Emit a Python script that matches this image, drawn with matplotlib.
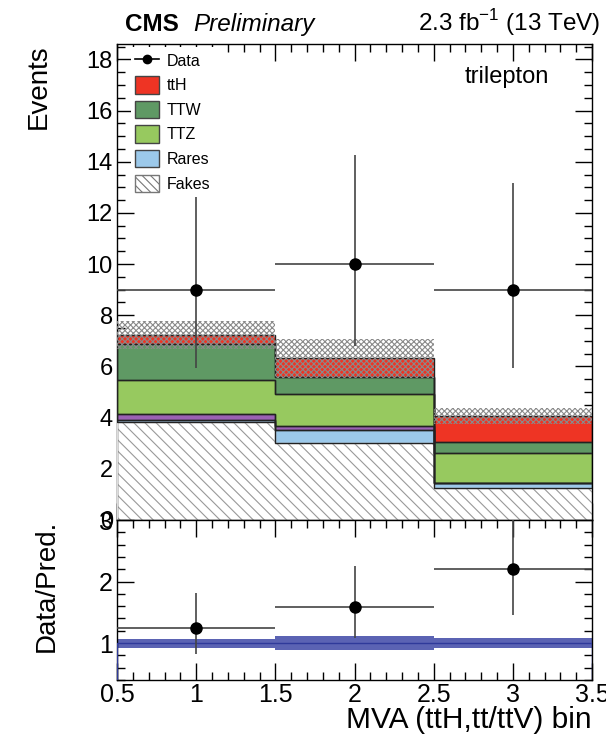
import matplotlib
matplotlib.use("Agg")
import matplotlib.pyplot as plt
import numpy as np
from matplotlib.patches import Patch
from matplotlib.lines import Line2D
from matplotlib.ticker import MultipleLocator

plt.rcParams['font.family'] = ['Liberation Sans', 'DejaVu Sans']
plt.rcParams['hatch.linewidth'] = 0.8

# ---- data ----
bin_edges = [0.5, 1.5, 2.5, 3.5]
bin_centers = [1, 2, 3]
fakes = [3.83, 2.99, 1.26]
rares = [0.09, 0.52, 0.17]
other = [0.21, 0.15, 0.00]
ttz = [1.35, 1.25, 1.17]
ttw = [1.40, 0.67, 0.46]
tth = [0.35, 0.74, 1.02]
bkg_unc = [0.53, 0.76, 0.31]
data = [9, 10, 9]
data_lo = [5.92, 6.81, 5.92]
data_hi = [13.15, 14.27, 13.15]

components = [
    ("Fakes", fakes, "white"),
    ("Rares", rares, "#9cc9ea"),
    (None, other, "#9b62b4"),
    ("TTZ", ttz, "#97c95f"),
    ("TTW", ttw, "#5f9964"),
    ("ttH", tth, "#ee3424"),
]

edges = np.array(bin_edges)
fig = plt.figure(figsize=(6.06, 7.36), dpi=100)
ax = fig.add_axes([117/606, 1-520/736, 475/606, (520-44)/736])
rx = fig.add_axes([117/606, 1-680/736, 475/606, (680-520)/736])

base = np.zeros(3)
for name, vals, col in components:
    top = base + np.array(vals)
    if name == "Fakes":
        ax.stairs(top, edges, baseline=base, fill=True, facecolor="white",
                  edgecolor="#999999", hatch="\\\\\\", linewidth=0, zorder=2)
        ax.stairs(top, edges, baseline=base, fill=False, color="#dddddd", lw=1, zorder=3)
    else:
        ax.stairs(top, edges, baseline=base, fill=True, color=col, lw=0, zorder=2)
        ax.stairs(top, edges, baseline=base, fill=False, color="#222222", lw=1.0, zorder=3)
    base = top
total = base
unc = np.array(bkg_unc)
ax.stairs(total + unc, edges, baseline=total - unc, fill=True, facecolor="none",
          edgecolor="#8a8a8a", hatch="xxxxxx", linewidth=0, zorder=4)

data_arr = np.array(data, float)
yerr = [data_arr - np.array(data_lo), np.array(data_hi) - data_arr]
ax.errorbar(bin_centers, data, xerr=0.5, yerr=yerr, fmt="o", color="black",
            ecolor="#444444", elinewidth=1.2, markersize=8, zorder=6, capsize=0)

ax.set_xlim(0.5, 3.5)
ax.set_ylim(0, 18.6)
ax.xaxis.set_major_locator(MultipleLocator(0.5))
ax.xaxis.set_minor_locator(MultipleLocator(0.1))
ax.yaxis.set_major_locator(MultipleLocator(2))
ax.yaxis.set_minor_locator(MultipleLocator(0.5))
ax.tick_params(axis="x", labelbottom=False)

for a, ls in ((ax, 17), (rx, 18)):
    a.tick_params(which="both", direction="in", top=True, right=True, colors="black")
    a.tick_params(which="major", length=12, width=1, labelsize=ls, pad=3)
    a.tick_params(which="minor", length=6, width=1)
    for s in a.spines.values():
        s.set_linewidth(1.0)

ax.set_ylabel("Events", fontsize=20, loc="top")
ax.yaxis.set_label_coords(-0.137, 1.0)

# legend
handles = [
    Line2D([0], [0], marker="o", color="black", markersize=6, lw=1.2),
    Patch(facecolor="#ee3424", edgecolor="#444444"),
    Patch(facecolor="#5f9964", edgecolor="#444444"),
    Patch(facecolor="#97c95f", edgecolor="#444444"),
    Patch(facecolor="#9cc9ea", edgecolor="#444444"),
    Patch(facecolor="white", edgecolor="#777777", hatch="\\\\\\\\"),
]
labels = ["Data", "ttH", "TTW", "TTZ", "Rares", "Fakes"]
leg = ax.legend(handles, labels, loc="upper left", bbox_to_anchor=(0.012, 1.011),
                fontsize=11.5, frameon=True, framealpha=1, facecolor="white",
                edgecolor="none", handlelength=1.5, handleheight=1.3,
                labelspacing=0.45, handletextpad=0.45, borderpad=0.3, fancybox=False)
leg.set_zorder(10)

ax.text(0.82, 0.93, "trilepton", transform=ax.transAxes, fontsize=17, ha="center", va="center")

fig.text(125/606, 1-31/736, "CMS", fontsize=17.5, fontweight="bold", ha="left", va="baseline")
fig.text(193/606, 1-31/736, "Preliminary", fontsize=17.5, style="italic", ha="left", va="baseline")
fig.text(600/606, 1-31/736, r"2.3 fb$^{\mathregular{-1}}$ (13 TeV)", fontsize=17.5,
         ha="right", va="baseline")

# ratio pad
rel = unc / total
rx.stairs(1 + rel, edges, baseline=1 - rel, fill=True, color="#5b63b3", lw=0, zorder=2)
rx.stairs(np.ones(3), edges, color="#2f3a9a", lw=1.0, zorder=3)
ratio = data_arr / total
rlo = np.array(data_lo) / total
rhi = np.array(data_hi) / total
rx.errorbar(bin_centers, ratio, xerr=0.5, yerr=[ratio - rlo, rhi - ratio], fmt="o",
            color="black", ecolor="#444444", elinewidth=1.2, markersize=8, zorder=6, capsize=0)
rx.set_xlim(0.5, 3.5)
rx.set_ylim(0.4, 3.0)
rx.xaxis.set_major_locator(MultipleLocator(0.5))
rx.xaxis.set_minor_locator(MultipleLocator(0.1))
rx.yaxis.set_major_locator(MultipleLocator(1))
rx.yaxis.set_minor_locator(MultipleLocator(0.2))
rx.set_xticks([0.5, 1, 1.5, 2, 2.5, 3, 3.5])
rx.set_xticklabels(["0.5", "1", "1.5", "2", "2.5", "3", "3.5"])
rx.tick_params(axis="x", pad=2)
rx.set_ylabel("Data/Pred.", fontsize=20, loc="top")
rx.yaxis.set_label_coords(-0.12, 1.0)
rx.set_xlabel("MVA (ttH,tt/ttV) bin", fontsize=21.5, loc="right")
rx.xaxis.set_label_coords(1.0, -0.16)

fig.savefig("out.png", dpi=100)
